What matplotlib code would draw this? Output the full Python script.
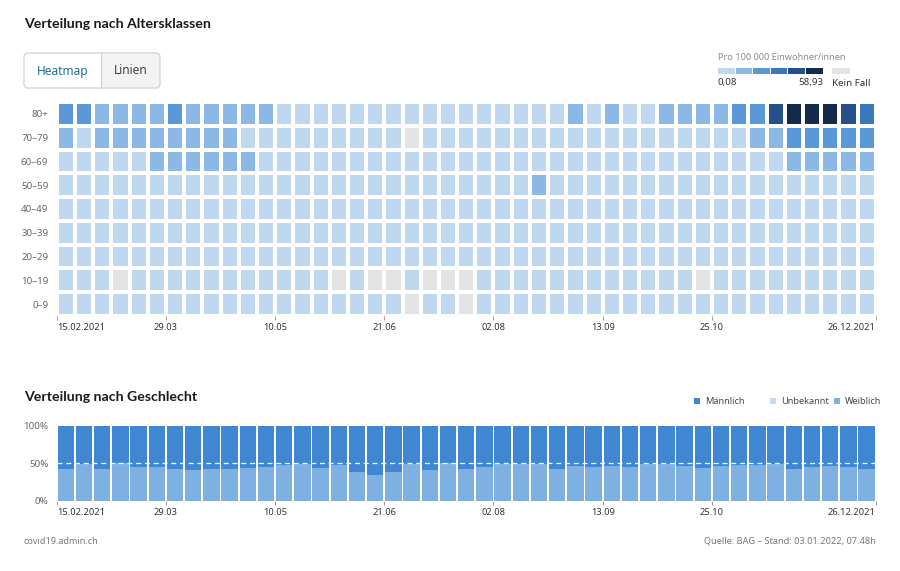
import numpy as np
import matplotlib
matplotlib.use("Agg")
import matplotlib.pyplot as plt
from matplotlib.colors import ListedColormap, BoundaryNorm
from matplotlib.patches import FancyBboxPatch, Rectangle

plt.rcParams['font.family'] = ['Noto Sans', 'DejaVu Sans']

# --- data -------------------------------------------------------------
age_groups = ["80+", "70–79", "60–69", "50–59", "40–49", "30–39", "20–29", "10–19", "0–9"]
tick_pos = [0, 6, 12, 18, 24, 30, 36, 45]
tick_labels = ["15.02.2021", "29.03", "10.05", "21.06", "02.08", "13.09", "25.10", "26.12.2021"]

# weekly incidence per 100 000 (0 = kein Fall)
inc_80 = [24, 23, 15, 14, 16, 15, 22, 14, 15, 14, 14, 12, 8, 7, 6, 5, 5, 4, 4, 4, 5, 5, 6,
          5, 4, 5, 6, 7, 12, 8, 13, 9, 9, 14, 15, 16, 17, 25, 28, 45, 55, 58.93, 56, 46, 34]
inc_70 = [13, 7, 12, 13, 14, 12, 13, 12, 13, 11, 7, 6, 4, 3, 3, 2, 2, 2, 1.5, 0, 1.8, 2, 2.5,
          2, 2, 2.5, 3, 3.5, 3, 3, 3.5, 4, 4, 5, 5, 6, 7, 8, 11, 12, 24, 26, 24, 25, 23]
inc_60 = [8, 7, 7, 6, 7, 11, 12, 13, 12, 11, 11, 6, 5, 4, 3, 2.5, 2, 1.5, 1.2, 1, 1, 1.2, 1.5,
          2, 2.5, 3, 3, 3.5, 3, 3, 3, 3, 3.5, 4, 4, 4.5, 5, 6, 7, 8, 14, 12, 12, 11, 13]
inc_50 = [4, 4, 3.5, 3.5, 3.5, 3.5, 3.5, 3, 3, 3, 2.5, 2, 1.5, 1.2, 1, 0.8, 0.6, 0.5, 0.5, 0.4, 0.5, 0.6, 0.8,
          1, 1.2, 1.5, 12, 1.8, 1.5, 1.5, 1.5, 1.6, 1.8, 2, 2, 2.2, 2.5, 3, 3.5, 4, 5, 5, 5, 4.5, 4]
inc_40 = [2, 2, 1.8, 1.8, 1.6, 1.6, 1.5, 1.4, 1.3, 1.2, 1, 0.8, 0.6, 0.5, 0.4, 0.3, 0.3, 0.3, 0.2, 0.2, 0.3, 0.3, 0.4,
          0.5, 0.6, 0.8, 0.9, 1, 1, 1, 1, 1.1, 1.2, 1.3, 1.3, 1.4, 1.5, 1.7, 2, 2.3, 2.8, 3, 3, 2.8, 2.5]
inc_30 = [1.2, 1.2, 1.1, 1, 1, 0.9, 0.9, 0.8, 0.8, 0.7, 0.6, 0.5, 0.4, 0.3, 0.3, 0.2, 0.2, 0.2, 0.2, 0.1, 0.2, 0.2, 0.3,
          0.3, 0.4, 0.5, 0.6, 0.6, 0.6, 0.6, 0.6, 0.7, 0.7, 0.8, 0.8, 0.9, 1, 1.1, 1.3, 1.5, 1.8, 2, 2, 1.8, 1.6]
inc_20 = [0.8, 0.8, 0.7, 0.7, 0.6, 0.6, 0.6, 0.5, 0.5, 0.5, 0.4, 0.3, 0.3, 0.2, 0.2, 0.15, 0.15, 0.1, 0.1, 0.1, 0.15, 0.2, 0.2,
          0.2, 0.3, 0.3, 0.4, 0.4, 0.4, 0.4, 0.4, 0.4, 0.5, 0.5, 0.5, 0.6, 0.6, 0.7, 0.8, 0.9, 1.1, 1.2, 1.2, 1.1, 1]
inc_10 = [0.3, 0.3, 0.3, 0, 0.3, 0.3, 0.2, 0.2, 0.2, 0.2, 0.2, 0.15, 0.1, 0.1, 0.1, 0, 0.1, 0, 0, 0.1, 0, 0, 0,
          0.1, 0.1, 0.15, 0.15, 0.2, 0.2, 0.2, 0.2, 0.2, 0.2, 0.2, 0.2, 0, 0.2, 0.2, 0.3, 0.3, 0.4, 0.4, 0.4, 0.4, 0.3]
inc_0 = [0.2, 0.2, 0.2, 0.2, 0.2, 0.2, 0.2, 0.2, 0.15, 0.15, 0.15, 0.1, 0.1, 0.1, 0.1, 0.1, 0.1, 0.1, 0.1, 0, 0.1, 0.1, 0,
         0.1, 0.1, 0.1, 0.1, 0.1, 0.1, 0.15, 0.15, 0.15, 0.15, 0.15, 0.2, 0.2, 0.2, 0.2, 0.2, 0.25, 0.3, 0.3, 0.3, 0.3, 0.3]

bin_edges = [0.08, 9.89, 19.7, 29.51, 39.32, 49.12, 58.93]
bin_colors = ["#bfd7ef", "#8cb8e5", "#5a99d7", "#3a77bb", "#24508a", "#132a4a"]
no_case_color = "#e3e3e3"

# share of cases by sex per week (%)
weiblich = [42.2, 48.9, 41.8, 49.8, 44.4, 44.4, 41.8, 41.3, 42.2, 42.2, 43.6, 44.4, 47.6, 49.3, 43.6,
            47.1, 38.2, 33.8, 37.8, 49.3, 41.3, 49.8, 41.8, 44.9, 49.3, 48.9, 48.4, 41.8, 46.2, 45.3,
            45.8, 44.9, 49.3, 48.9, 45.8, 43.6, 45.8, 47.1, 47.6, 49.3, 42.2, 44.4, 46.2, 44.9, 42.7]
unbekannt = [0.2] * 45
sex_labels = ["Männlich", "Unbekannt", "Weiblich"]
sex_colors = ["#3f87d2", "#c3dbf2", "#7fb0e2"]

# --- figure -----------------------------------------------------------
W, H = 900, 571
fig = plt.figure(figsize=(W / 100, H / 100), dpi=100)
bg = fig.add_axes([0, 0, 1, 1])
bg.set_xlim(0, W)
bg.set_ylim(H, 0)
bg.axis("off")

def fax(x0, y0, x1, y1):
    return fig.add_axes([x0 / W, 1 - y1 / H, (x1 - x0) / W, (y1 - y0) / H])

# titles
title_font = dict(family=["Lato", "DejaVu Sans"], fontsize=10.2, fontweight="bold", color="#1a1a1a", va="center")
bg.text(24, 24, "Verteilung nach Altersklassen", **title_font)
bg.text(24, 397, "Verteilung nach Geschlecht", **title_font)

# toggle buttons
bg.add_patch(FancyBboxPatch((24, 53), 136, 35, boxstyle="round,pad=0,rounding_size=4",
                            fc="#f3f3f4", ec="none"))
bg.add_patch(FancyBboxPatch((24, 53), 85, 35, boxstyle="round,pad=0,rounding_size=4",
                            fc="white", ec="none"))
bg.add_patch(Rectangle((101, 53), 10, 35, fc="#f3f3f4", ec="none"))
bg.add_patch(FancyBboxPatch((24, 53), 136, 35, boxstyle="round,pad=0,rounding_size=4",
                            fc="none", ec="#d2d2d2", lw=0.9))
bg.plot([101, 101], [53, 88], color="#d2d2d2", lw=0.9)
bg.text(62.5, 71, "Heatmap", fontsize=8.6, color="#1d6f95", ha="center", va="center")
bg.text(130.5, 71, "Linien", fontsize=8.6, color="#444444", ha="center", va="center")

# colour legend
bg.text(718, 57, "Pro 100 000 Einwohner/innen", fontsize=6.6, color="#8a8a8a", va="center")
for i, c in enumerate(bin_colors):
    bg.add_patch(Rectangle((718 + i * 17.6, 68), 16.6, 6, fc=c, ec="none"))
bg.add_patch(Rectangle((832, 68), 18, 6, fc=no_case_color, ec="none"))
bg.text(718, 83, "0,08", fontsize=7, color="#333333", va="center")
bg.text(823, 83, "58,93", fontsize=7, color="#333333", va="center", ha="right")
bg.text(832, 83, "Kein Fall", fontsize=7, color="#333333", va="center")

# --- heatmap ----------------------------------------------------------
data = np.array([inc_80, inc_70, inc_60, inc_50, inc_40, inc_30, inc_20, inc_10, inc_0], dtype=float)
data = np.ma.masked_where(data == 0, data)
cmap = ListedColormap(bin_colors)
cmap.set_bad(no_case_color)
norm = BoundaryNorm(bin_edges, cmap.N, clip=True)

ax = fax(56.7, 102, 875.7, 316)
ax.pcolormesh(np.arange(46), np.arange(10), data, cmap=cmap, norm=norm,
              edgecolors="white", linewidth=1.5)
ax.set_xlim(0, 45)
ax.set_ylim(9, 0)
ax.set_yticks(np.arange(9) + 0.5)
ax.set_yticklabels(age_groups)
ax.tick_params(axis="y", length=0, pad=6, labelsize=7, labelcolor="#666666")
for s in ax.spines.values():
    s.set_visible(False)

def date_axis(a):
    a.set_xticks(tick_pos)
    a.set_xticklabels(tick_labels)
    a.tick_params(axis="x", length=3, width=0.7, color="#999999", pad=2,
                  labelsize=6.7, labelcolor="#333333")
    labs = a.get_xticklabels()
    labs[0].set_ha("left")
    labs[-1].set_ha("right")

date_axis(ax)

# --- sex distribution -------------------------------------------------
x = np.arange(45) + 0.5
w = np.array(weiblich) / 100
u = np.array(unbekannt) / 100
m = 1 - w - u

ax2 = fax(56.7, 425.7, 875.7, 500.7)
ax2.bar(x, w, width=0.91, color=sex_colors[2], linewidth=0)
ax2.bar(x, u, bottom=w, width=0.91, color=sex_colors[1], linewidth=0)
ax2.bar(x, m, bottom=w + u, width=0.91, color=sex_colors[0], linewidth=0)
ax2.axhline(0.5, color="white", lw=0.9, ls=(0, (4, 3)))
ax2.set_xlim(0, 45)
ax2.set_ylim(0, 1)
ax2.set_yticks([0, 0.5, 1])
ax2.set_yticklabels(["0%", "50%", "100%"])
ax2.tick_params(axis="y", length=0, pad=6, labelsize=7, labelcolor="#666666")
for s in ax2.spines.values():
    s.set_visible(False)
date_axis(ax2)

# legend
for lx, lab, c in zip([694, 770, 834], sex_labels, sex_colors):
    bg.add_patch(Rectangle((lx, 398), 6, 6, fc=c, ec="none"))
    bg.text(lx + 11, 401, lab, fontsize=6.6, color="#444444", va="center")

# footer
bg.text(24, 541, "covid19.admin.ch", fontsize=6.5, color="#777777", va="center")
bg.text(876, 541, "Quelle: BAG – Stand: 03.01.2022, 07.48h", fontsize=6.6, color="#777777",
        va="center", ha="right")

fig.savefig("out.png", dpi=100)
